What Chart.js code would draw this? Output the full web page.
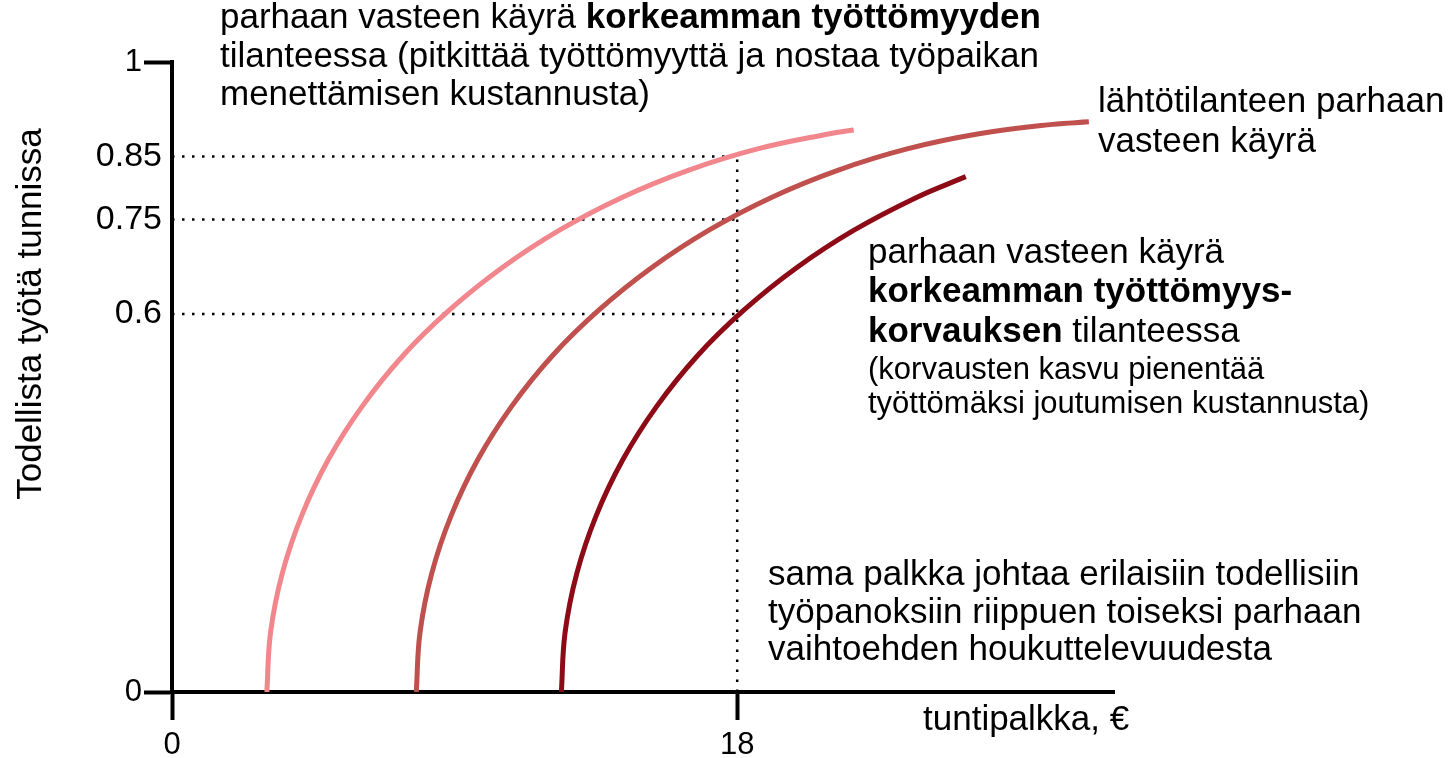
<!DOCTYPE html>
<html>
<head>
<meta charset="utf-8">
<title>Parhaan vasteen käyrät</title>
<script src="https://cdn.jsdelivr.net/npm/chart.js@4.4.1/dist/chart.umd.min.js"></script>
<style>
  html, body { margin: 0; padding: 0; background: #fff; }
  #wrap { width: 1454px; height: 758px; position: relative; }
</style>
</head>
<body>
<div id="wrap"><canvas id="bestResponse"></canvas></div>
<script>
// values: hourly wage (x) -> effort per hour (y)
const highUnempX = [3.02, 3.14, 3.51, 4.13, 4.98, 6.05, 7.34, 8.83, 10.50, 12.34, 14.33, 16.44, 18.65, 20.94, 21.71];
const highUnempY = [0, 0.095, 0.188, 0.28, 0.369, 0.453, 0.533, 0.606, 0.673, 0.733, 0.785, 0.828, 0.862, 0.886, 0.892];

const baseX = [7.78, 7.90, 8.27, 8.89, 9.74, 10.81, 12.10, 13.59, 15.26, 17.10, 19.09, 21.20, 23.41, 25.70, 28.04, 29.20];
const baseY = [0, 0.095, 0.188, 0.28, 0.369, 0.453, 0.533, 0.606, 0.673, 0.733, 0.785, 0.828, 0.862, 0.886, 0.901, 0.905];

const highBenefitX = [12.40, 12.52, 12.89, 13.51, 14.36, 15.43, 16.72, 18.21, 19.88, 21.72, 23.71, 25.28];
const highBenefitY = [0, 0.095, 0.188, 0.28, 0.369, 0.453, 0.533, 0.606, 0.673, 0.733, 0.785, 0.818];

const xTicks = [0, 18];
const yTicks = [0, 0.6, 0.75, 0.85, 1];
const wage = 18;
const efforts = [0.85, 0.75, 0.6];

const FONT = '"Liberation Sans", Arial, Helvetica, sans-serif';

const pts = (xs, ys) => xs.map((x, i) => ({ x: x, y: ys[i] }));

const curve = (data, color) => ({
  data: data,
  showLine: true,
  borderColor: color,
  borderWidth: 5,
  pointRadius: 0,
  tension: 0.4
});

const guide = (data) => ({
  data: data,
  showLine: true,
  borderColor: '#000',
  borderWidth: 2.5,
  borderDash: [2.5, 7.5],
  pointRadius: 0,
  tension: 0
});

const datasets = [
  curve(pts(highUnempX, highUnempY), '#f2868d'),
  curve(pts(baseX, baseY), '#c0504d'),
  curve(pts(highBenefitX, highBenefitY), '#8c0b16')
];
efforts.forEach(e => datasets.push(guide([{ x: 0, y: e }, { x: wage, y: e }])));
datasets.push(guide([{ x: wage, y: 0 }, { x: wage, y: efforts[0] }]));

// texts next to the curves
const notes = [
  { x: 220, size: 35, base: [28, 67, 105], lines: [
    [['parhaan vasteen käyrä ', false], ['korkeamman työttömyyden', true]],
    [['tilanteessa (pitkittää työttömyyttä ja nostaa työpaikan', false]],
    [['menettämisen kustannusta)', false]]
  ]},
  { x: 1098, size: 35, base: [112, 152], lines: [
    [['lähtötilanteen parhaan', false]],
    [['vasteen käyrä', false]]
  ]},
  { x: 868, size: 35, base: [263, 302, 342], lines: [
    [['parhaan vasteen käyrä', false]],
    [['korkeamman työttömyys-', true]],
    [['korvauksen', true], [' tilanteessa', false]]
  ]},
  { x: 868, size: 31, base: [379, 413], lines: [
    [['(korvausten kasvu pienentää', false]],
    [['työttömäksi joutumisen kustannusta)', false]]
  ]},
  { x: 768, size: 35, base: [585, 623, 660], lines: [
    [['sama palkka johtaa erilaisiin todellisiin', false]],
    [['työpanoksiin riippuen toiseksi parhaan', false]],
    [['vaihtoehden houkuttelevuudesta', false]]
  ]},
  { x: 923, size: 35, base: [730], lines: [
    [['tuntipalkka, €', false]]
  ]}
];

const textPlugin = {
  id: 'texts',
  afterDraw(chart) {
    const ctx = chart.ctx;
    const y = chart.scales.y;
    ctx.save();
    ctx.fillStyle = '#000';
    ctx.textBaseline = 'alphabetic';
    ctx.textAlign = 'left';
    notes.forEach(n => {
      n.lines.forEach((parts, i) => {
        let x = n.x;
        parts.forEach(([t, bold]) => {
          ctx.font = (bold ? 'bold ' : '') + n.size + 'px ' + FONT;
          ctx.fillText(t, x, n.base[i]);
          x += ctx.measureText(t).width;
        });
      });
    });

    // y axis title
    ctx.save();
    ctx.translate(41, 314);
    ctx.rotate(-Math.PI / 2);
    ctx.textAlign = 'center';
    ctx.font = '35px ' + FONT;
    ctx.fillText('Todellista työtä tunnissa', 0, 0);
    ctx.restore();

    // labels for the two ticks that carry a tick mark
    ctx.font = '31px ' + FONT;
    ctx.textAlign = 'right';
    ctx.textBaseline = 'middle';
    [0, 1].forEach(v => {
      ctx.fillText(String(v), y.left + y.width - 30, y.getPixelForValue(v));
    });
    ctx.restore();
  }
};

new Chart(document.getElementById('bestResponse'), {
  type: 'scatter',
  data: { datasets: datasets },
  plugins: [textPlugin],
  options: {
    responsive: true,
    maintainAspectRatio: false,
    animation: false,
    events: [],
    layout: { padding: { left: 0, top: 62, right: 340, bottom: 0 } },
    plugins: {
      legend: { display: false },
      tooltip: { enabled: false }
    },
    scales: {
      x: {
        type: 'linear',
        min: 0,
        max: 30,
        afterBuildTicks: s => { s.ticks = xTicks.map(v => ({ value: v })); },
        afterFit: s => { s.height = 66; },
        border: { display: true, color: '#000', width: 4 },
        grid: { display: true, drawOnChartArea: false, tickLength: 28, tickWidth: 4, tickColor: '#000' },
        ticks: { padding: 7, color: '#000', maxRotation: 0, font: { size: 31, family: FONT },
                 callback: v => String(v) }
      },
      y: {
        type: 'linear',
        min: 0,
        max: 1,
        afterBuildTicks: s => { s.ticks = yTicks.map(v => ({ value: v })); },
        afterFit: s => { s.width = 172; },
        border: { display: true, color: '#000', width: 4 },
        grid: {
          display: true,
          drawOnChartArea: false,
          tickLength: 28,
          tickWidth: 4,
          tickColor: c => (c.tick && (c.tick.value === 0 || c.tick.value === 1)) ? '#000' : 'rgba(0,0,0,0)'
        },
        ticks: { padding: -18, color: '#000', font: { size: 34, family: FONT },
                 callback: v => (v === 0 || v === 1) ? '' : String(v) }
      }
    }
  }
});
</script>
</body>
</html>
